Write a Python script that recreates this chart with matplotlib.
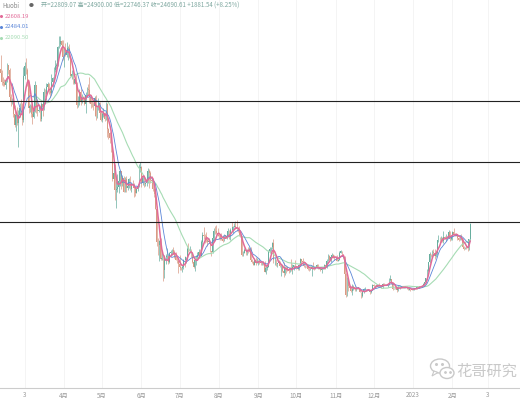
import matplotlib
matplotlib.use("Agg")
import matplotlib.pyplot as plt
import matplotlib.dates as mdates
from matplotlib.patches import Ellipse, Polygon
import numpy as np
import pandas as pd

# Huobi BTC/USDT daily, 2022-02-10 .. 2023-02-15, prices in thousand USDT
first_date = "2022-02-10"
first_open = 44.05

close_k = [
    # 2022-02 (10..28)
    43.52, 42.41, 42.24, 42.07, 42.54, 44.58, 43.96, 40.54, 40.00, 40.12, 38.43, 37.02, 38.28, 37.30, 38.33, 39.22, 39.10, 37.70, 43.19,
    # 2022-03
    44.42, 43.92, 42.45, 39.14, 39.40, 38.42, 38.06, 38.74, 41.98, 39.44, 38.79, 38.90, 37.80, 39.67, 39.34, 41.14, 40.95, 41.80, 42.19, 41.25,
    41.08, 42.36, 42.89, 43.96, 44.35, 44.50, 46.82, 47.13, 47.47, 47.07, 45.54,
    # 2022-04
    46.28, 45.81, 46.41, 46.62, 45.50, 43.17, 43.44, 42.25, 42.76, 42.16, 39.53, 40.07, 41.15, 39.94, 40.55, 40.38, 39.68, 40.80, 41.50, 41.37,
    40.48, 39.71, 39.47, 39.45, 40.43, 38.12, 39.24, 39.74, 38.60, 37.64,
    # 2022-05
    38.47, 38.53, 37.75, 39.69, 36.55, 36.01, 35.47, 34.06, 30.30, 31.02, 28.94, 29.05, 29.28, 30.10, 31.30, 29.86, 30.42, 28.72, 30.31, 29.20,
    29.43, 30.30, 29.10, 29.65, 29.54, 29.20, 28.63, 29.03, 29.47, 31.73, 31.79,
    # 2022-06
    29.80, 30.45, 29.70, 29.86, 29.91, 31.37, 31.13, 30.20, 30.11, 29.08, 28.42, 26.58, 22.49, 22.14, 22.58, 20.38, 20.47, 19.02, 20.55, 20.57,
    20.72, 19.97, 21.08, 21.23, 21.50, 21.03, 20.73, 20.28, 20.11, 19.78,
    # 2022-07
    19.30, 19.25, 19.30, 20.23, 20.19, 20.55, 21.64, 21.59, 21.59, 20.85, 19.97, 19.32, 20.21, 20.59, 20.83, 21.19, 20.78, 22.43, 23.39, 23.23,
    23.16, 22.68, 22.45, 22.58, 21.31, 21.25, 22.95, 23.84, 23.78, 23.64, 23.30,
    # 2022-08
    23.27, 22.99, 22.82, 22.62, 23.31, 22.95, 23.18, 23.81, 23.16, 23.96, 23.94, 24.40, 24.44, 24.31, 24.10, 23.85, 23.34, 23.19, 20.83, 21.14,
    21.52, 21.40, 21.53, 21.37, 21.56, 20.24, 20.04, 19.55, 20.29, 19.80, 20.05,
    # 2022-09
    20.13, 19.95, 19.83, 20.00, 19.80, 18.79, 19.29, 19.32, 21.36, 21.65, 21.83, 22.40, 20.18, 20.24, 19.70, 19.80, 20.11, 19.42, 19.54, 18.88,
    18.55, 19.41, 19.30, 18.93, 18.80, 19.22, 19.08, 19.41, 19.59, 19.42,
    # 2022-10
    19.31, 19.06, 19.62, 20.34, 20.16, 19.96, 19.53, 19.42, 19.44, 19.13, 19.06, 19.15, 19.38, 19.18, 19.07, 19.26, 19.55, 19.33, 19.12, 19.04,
    19.16, 19.20, 19.57, 19.33, 20.09, 20.77, 20.29, 20.60, 20.81, 20.63, 20.49,
    # 2022-11
    20.48, 20.15, 20.21, 21.15, 21.30, 20.91, 20.59, 18.54, 15.88, 17.59, 17.04, 16.80, 16.35, 16.62, 16.90, 16.66, 16.69, 16.70, 16.69, 16.28,
    15.78, 16.23, 16.60, 16.60, 16.52, 16.46, 16.44, 16.22, 16.44, 17.16,
    # 2022-12
    16.98, 17.09, 16.89, 17.11, 16.97, 17.09, 16.84, 17.22, 17.13, 17.13, 17.09, 17.21, 17.78, 17.81, 17.36, 16.63, 16.78, 16.74, 16.44, 16.90,
    16.82, 16.83, 16.78, 16.84, 16.83, 16.92, 16.70, 16.54, 16.63, 16.60, 16.54,
    # 2023-01
    16.62, 16.68, 16.67, 16.85, 16.83, 16.95, 16.94, 17.12, 17.18, 17.44, 17.94, 18.85, 19.93, 20.95, 20.87, 21.19, 21.13, 20.68, 21.07, 22.67,
    22.78, 22.71, 22.92, 22.63, 23.06, 23.01, 23.08, 23.03, 23.75, 22.83, 23.13,
    # 2023-02 (1..15)
    23.73, 23.49, 23.43, 23.33, 22.94, 22.76, 23.26, 22.96, 21.80, 21.63, 21.86, 21.79, 21.77, 22.81, 24.69,
]

high_k = [
    45.82, 43.92, 42.99, 42.76, 42.85, 44.75, 44.58, 44.20, 40.97, 40.46, 40.15, 39.49, 38.44, 39.25, 38.97, 39.73, 40.30, 39.85, 44.23,
    44.95, 45.40, 44.10, 42.50, 39.61, 39.65, 39.48, 39.40, 42.55, 42.00, 40.25, 39.35, 39.30, 39.90, 39.87, 41.72, 41.48, 42.30, 42.40, 42.28,
    41.72, 43.36, 43.02, 44.25, 45.10, 44.80, 46.92, 48.19, 48.10, 47.70, 47.60,
    46.70, 47.21, 47.45, 46.89, 47.20, 45.51, 43.90, 43.97, 42.80, 43.42, 42.42, 40.69, 41.56, 41.50, 40.90, 40.70, 40.60, 41.10, 41.76, 42.20,
    42.98, 40.80, 39.98, 39.93, 40.62, 40.80, 39.47, 40.37, 39.92, 38.80,
    38.68, 39.17, 38.63, 39.90, 39.85, 36.64, 36.15, 35.50, 34.24, 32.66, 32.13, 30.03, 30.98, 30.30, 31.41, 31.30, 30.77, 30.66, 30.52, 30.75,
    29.60, 30.45, 30.65, 29.83, 30.20, 29.85, 29.38, 29.20, 29.56, 32.22, 32.40,
    31.98, 30.65, 30.68, 29.94, 30.15, 31.75, 31.55, 31.33, 30.68, 30.35, 29.45, 28.55, 26.90, 23.00, 22.76, 22.98, 21.33, 20.78, 20.80, 21.00,
    21.70, 20.85, 21.20, 21.48, 21.60, 21.85, 21.52, 21.18, 20.42, 20.17,
    20.88, 19.40, 19.62, 20.30, 20.70, 20.65, 21.80, 22.40, 21.95, 21.60, 20.85, 20.05, 20.25, 20.85, 21.20, 21.55, 21.65, 22.70, 23.75, 24.28,
    23.42, 23.75, 22.98, 22.98, 22.66, 21.35, 23.10, 24.20, 24.42, 24.65, 24.18,
    23.45, 23.45, 23.64, 23.20, 23.45, 23.35, 23.40, 24.24, 23.93, 24.19, 24.92, 24.45, 24.88, 25.05, 25.21, 24.25, 24.45, 23.62, 23.20, 21.38,
    21.69, 21.52, 21.65, 21.80, 21.82, 21.86, 20.33, 20.15, 20.39, 20.55, 20.47,
    20.20, 20.43, 20.00, 20.02, 20.05, 20.16, 19.46, 19.45, 21.44, 21.79, 21.86, 22.49, 22.79, 20.54, 20.37, 19.90, 20.18, 20.10, 19.68, 19.64,
    19.94, 19.50, 19.49, 19.31, 19.18, 19.30, 20.34, 19.69, 19.63, 20.17,
    19.48, 19.39, 19.71, 20.47, 20.37, 20.44, 20.05, 19.60, 19.52, 19.52, 19.25, 19.22, 19.50, 19.95, 19.20, 19.40, 19.68, 19.70, 19.35, 19.34,
    19.25, 19.25, 19.69, 19.60, 20.41, 21.00, 20.87, 20.75, 21.08, 20.92, 20.82,
    20.69, 20.79, 20.38, 21.30, 21.48, 21.36, 20.99, 20.67, 18.59, 18.15, 17.66, 17.05, 16.90, 17.19, 17.13, 16.98, 16.74, 16.87, 16.82, 16.74,
    16.29, 16.27, 16.70, 16.81, 16.61, 16.67, 16.59, 16.48, 16.53, 17.24,
    17.20, 17.10, 17.16, 17.20, 17.42, 17.10, 17.14, 17.30, 17.35, 17.22, 17.26, 17.24, 18.00, 18.39, 17.85, 17.53, 16.80, 16.86, 16.82, 17.06,
    16.92, 16.87, 16.95, 16.87, 16.86, 16.94, 16.96, 16.79, 16.66, 16.64, 16.63,
    16.63, 16.76, 16.78, 17.00, 16.88, 17.00, 16.96, 17.17, 17.39, 17.50, 17.96, 19.10, 19.97, 21.26, 21.00, 21.44, 21.62, 21.65, 21.18, 22.75,
    23.37, 23.08, 23.16, 23.13, 23.80, 23.28, 23.50, 23.17, 23.95, 23.80, 23.32,
    23.80, 24.25, 23.59, 23.59, 23.43, 23.15, 23.36, 23.45, 22.99, 21.92, 21.90, 22.08, 21.90, 22.90, 24.90,
]

low_k = [
    43.20, 42.01, 41.85, 41.88, 41.57, 42.43, 43.35, 40.10, 39.45, 39.63, 38.05, 36.80, 36.35, 37.04, 34.32, 38.00, 38.60, 37.00, 37.45,
    42.80, 43.35, 41.85, 38.55, 38.65, 38.10, 37.15, 37.88, 38.65, 38.60, 38.22, 38.66, 37.60, 37.60, 38.13, 38.92, 40.53, 40.20, 41.54, 40.94,
    40.50, 40.90, 41.77, 42.58, 43.60, 44.05, 44.42, 46.65, 46.95, 46.60, 45.20,
    44.25, 45.63, 45.52, 45.12, 45.35, 43.12, 42.73, 42.13, 42.12, 42.00, 39.20, 39.25, 39.55, 39.55, 39.77, 40.00, 39.55, 38.54, 40.57, 40.84,
    39.75, 39.18, 39.28, 38.95, 38.20, 37.70, 37.88, 38.88, 38.18, 37.58,
    37.39, 38.05, 37.51, 37.70, 35.57, 35.26, 34.76, 33.71, 30.03, 29.73, 27.70, 26.70, 28.71, 28.60, 29.49, 29.12, 29.44, 28.65, 28.68, 28.73,
    28.96, 29.25, 28.90, 28.65, 29.30, 28.02, 28.26, 28.55, 28.83, 29.30, 31.22,
    29.30, 29.60, 29.35, 29.45, 29.50, 29.88, 29.22, 29.85, 29.95, 28.85, 28.10, 26.56, 22.00, 20.85, 20.07, 20.23, 20.25, 17.62, 17.95, 19.70,
    20.35, 19.77, 19.90, 20.75, 20.90, 20.98, 20.50, 20.20, 19.85, 18.63,
    18.95, 18.98, 18.78, 19.05, 19.30, 19.80, 20.25, 21.20, 21.35, 20.65, 19.88, 19.23, 18.91, 19.62, 20.38, 20.48, 20.76, 20.76, 21.68, 22.90,
    22.35, 22.50, 21.95, 22.30, 21.27, 20.72, 21.04, 22.60, 23.43, 23.52, 23.25,
    22.85, 22.68, 22.68, 22.45, 22.59, 22.93, 22.85, 23.15, 22.88, 22.66, 23.90, 23.61, 24.32, 24.15, 23.78, 23.70, 23.20, 23.12, 20.78, 20.77,
    21.07, 20.91, 20.90, 21.16, 21.32, 20.12, 19.81, 19.55, 19.60, 19.55, 19.85,
    19.65, 19.77, 19.65, 19.60, 19.64, 18.68, 18.54, 19.03, 19.30, 21.11, 21.35, 21.55, 19.86, 19.62, 19.51, 19.33, 19.70, 19.40, 18.27, 18.77,
    18.13, 18.36, 18.61, 18.90, 18.64, 18.68, 18.82, 18.50, 18.93, 19.20,
    19.16, 18.92, 19.00, 19.50, 19.75, 19.86, 19.32, 19.25, 19.32, 19.03, 18.87, 18.97, 18.19, 19.07, 18.98, 19.07, 19.20, 19.10, 19.07, 18.90,
    18.66, 19.10, 19.08, 19.16, 19.24, 20.05, 20.20, 20.00, 20.56, 20.51, 20.23,
    20.35, 20.05, 20.05, 20.18, 21.08, 20.90, 20.40, 17.17, 15.59, 15.75, 16.37, 16.75, 16.20, 15.82, 16.55, 16.39, 16.41, 16.63, 16.57, 16.25,
    15.48, 15.63, 16.17, 16.46, 16.35, 16.42, 16.40, 15.99, 16.11, 16.43,
    16.86, 16.79, 16.86, 16.88, 16.89, 16.91, 16.68, 16.73, 17.09, 17.09, 17.07, 16.87, 17.08, 17.66, 17.28, 16.53, 16.59, 16.66, 16.28, 16.40,
    16.74, 16.56, 16.76, 16.79, 16.73, 16.79, 16.60, 16.46, 16.50, 16.34, 16.48,
    16.50, 16.55, 16.61, 16.66, 16.77, 16.69, 16.90, 16.91, 17.10, 17.15, 17.32, 17.90, 18.71, 19.89, 20.55, 20.60, 20.87, 20.41, 20.66, 20.85,
    22.42, 22.32, 22.48, 22.46, 22.32, 22.86, 22.57, 22.88, 23.00, 22.54, 22.75,
    22.78, 23.38, 23.23, 23.25, 22.77, 22.63, 22.75, 22.69, 21.69, 21.47, 21.60, 21.62, 21.35, 21.53, 22.75,
]

ma_periods = [5, 10, 30]
ma_colors = ["#e26a98", "#5b86d8", "#a6dcb4"]
legend_values = ["22608.19", "22484.01", "22090.50"]
header = "开=22809.07 高=24900.00 低=22746.37 收=24690.61 +1881.54 (+8.25%)"
level_lines = [25.0, 32.5, 40.0]
month_starts = ["2022-03-01", "2022-04-01", "2022-05-01", "2022-06-01", "2022-07-01", "2022-08-01",
                "2022-09-01", "2022-10-01", "2022-11-01", "2022-12-01", "2023-01-01", "2023-02-01",
                "2023-03-01"]
month_labels = ["3", "4月", "5月", "6月", "7月", "8月", "9月", "10月", "11月", "12月", "2023", "2月", "3"]

plt.rcParams['font.family'] = ['Noto Sans CJK SC', 'DejaVu Sans']

close = np.array(close_k)
high = np.array(high_k)
low = np.array(low_k)
opn = np.concatenate([[first_open], close[:-1]])
dates = pd.date_range(first_date, periods=len(close), freq="D")
x = mdates.date2num(dates)

fig = plt.figure(figsize=(5.2, 4), dpi=100)
ax = fig.add_axes([0, 12 / 400, 1, 388 / 400])

# faint month grid
for m in month_starts:
    ax.axvline(mdates.datestr2num(m), color="#f2f2f2", lw=0.6, zorder=0)

up = close >= opn
cols = np.where(up, "#68ae9f", "#d99a84")
ax.vlines(x, low, high, colors=cols, lw=0.5, zorder=2)
ax.bar(x, close - opn, bottom=opn, width=0.65, color=cols, lw=0, zorder=2)

s = pd.Series(close, index=x)
# long MA under, short MA on top
for p, c, lw, z in zip(ma_periods, ma_colors, [1.1, 0.6, 0.8], [5, 4, 3]):
    ma = s.rolling(p).mean()
    ax.plot(x, ma.values, color=c, lw=lw, zorder=z)

for lv in level_lines:
    ax.axhline(lv, color="#222222", lw=0.8, zorder=6)

mar1 = mdates.datestr2num("2022-03-01")
ax.set_xlim(mar1 - 19.5, mar1 + 390.3)
ax.set_ylim(25 - 166.3 * 0.1246, 25 + 221.7 * 0.1246)

ax.set_xticks([mdates.datestr2num(m) for m in month_starts])
ax.set_xticklabels(month_labels)
ax.tick_params(axis="x", length=0, pad=2.5, labelsize=4.5, labelcolor="#999999")
ax.set_yticks([])
for sp in ["top", "left", "right"]:
    ax.spines[sp].set_visible(False)
ax.spines["bottom"].set_color("#cccccc")
ax.spines["bottom"].set_linewidth(0.8)
ax.set_facecolor("white")

# overlay in pixel coords for header and watermark
ov = fig.add_axes([0, 0, 1, 1], zorder=10)
ov.set_xlim(0, 520)
ov.set_ylim(400, 0)
ov.axis("off")
ov.patch.set_alpha(0)

ov.text(2, 5.5, "Huobi", fontsize=4.4, color="#8a8a8a", va="center")
ov.text(29, 5.5, "●", fontsize=3.5, color="#666666", va="center")
ov.text(41, 5.5, header, fontsize=4.4, color="#7fa8a0", va="center")
for i, (v, c) in enumerate(zip(legend_values, ma_colors)):
    yy = 16 + i * 10.8
    ov.plot(1.2, yy, "o", ms=1.2, color=c)
    ov.text(5, yy, v, fontsize=4.2, color=c, va="center")

# watermark
wm = "#c9c9c9"
ov.add_patch(Ellipse((440, 366), 19, 14, fill=False, ec=wm, lw=1.0))
ov.add_patch(Ellipse((447, 373), 14, 11, fc="white", ec=wm, lw=1.0))
ov.add_patch(Polygon([[434, 371], [432, 376], [438, 372.5]], closed=True, fc="white", ec=wm, lw=0.8))
ov.plot([436, 442], [363.5, 363.5], "o", ms=1.2, color=wm)
ov.plot([444.5, 449.5], [371.5, 371.5], "o", ms=1.0, color=wm)
ov.text(456, 371.5, "花哥研究", fontsize=11, color=wm, va="center", ha="left")

fig.savefig("out.png", dpi=100, facecolor="white")
